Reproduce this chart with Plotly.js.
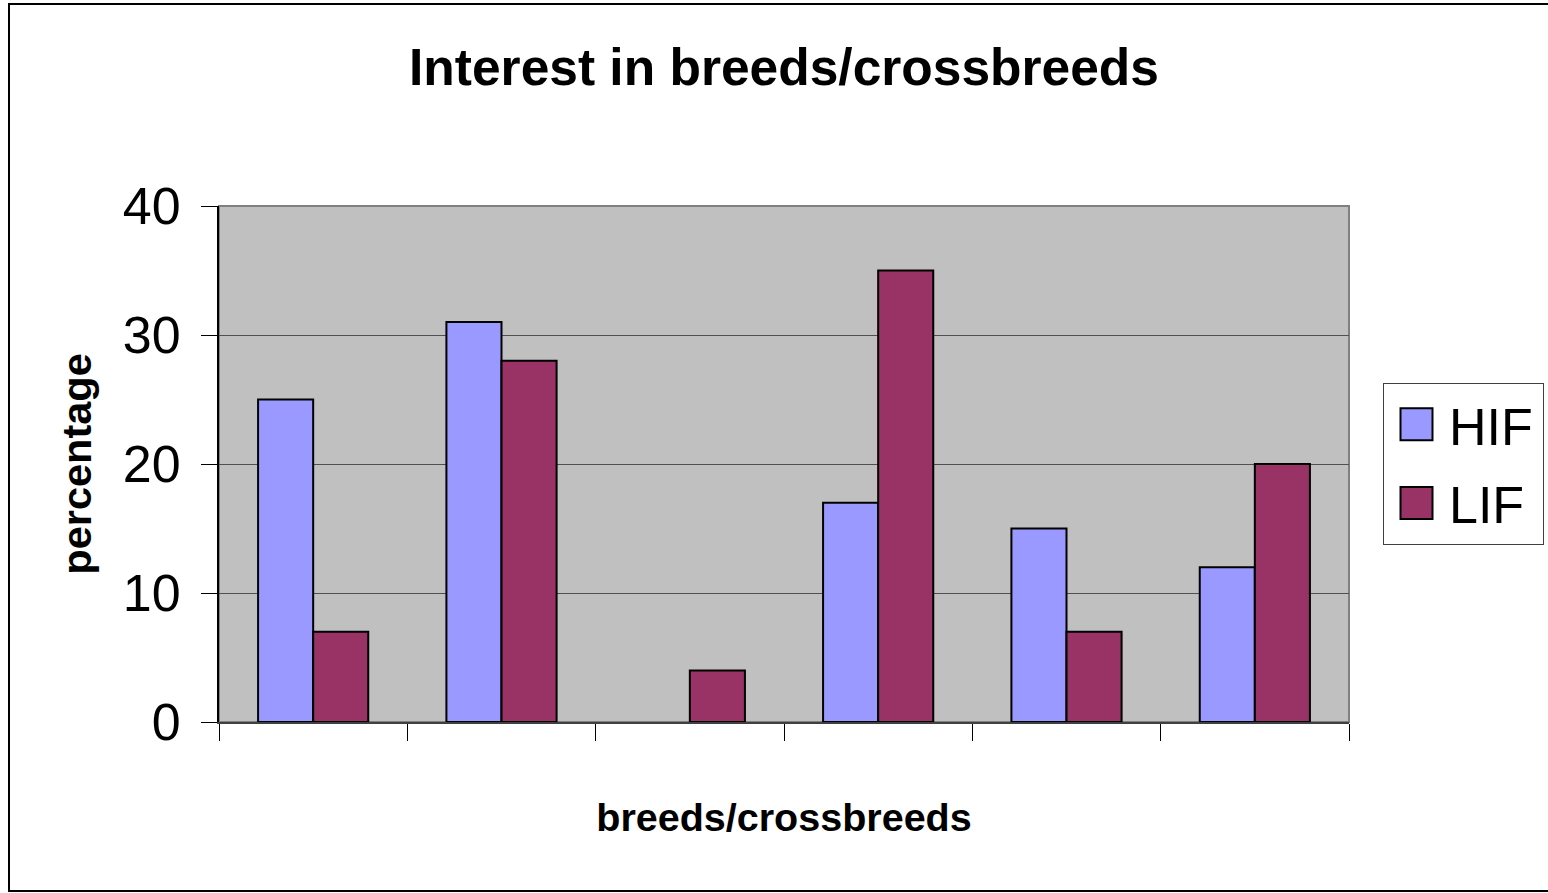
<!DOCTYPE html>
<html>
<head>
<meta charset="utf-8">
<script src="https://cdn.plot.ly/plotly-3.0.1.min.js"></script>
<style>
html,body{margin:0;padding:0;background:#fff;}
#chart{width:1548px;height:893px;}
</style>
</head>
<body>
<div id="chart"></div>
<script>
// Data
const categories = ['1', '2', '3', '4', '5', '6'];
const hifValues = [25, 31, null, 17, 15, 12];
const lifValues = [7, 28, 4, 35, 7, 20];
const seriesNames = ['HIF', 'LIF'];
const yTickValues = [0, 10, 20, 30, 40];

const FONT = 'Liberation Sans, Arial, sans-serif';

const traces = [
  {
    type: 'bar', name: seriesNames[0], x: categories, y: hifValues, legendgroup: 'a',
    marker: {color: '#9999FF', line: {color: '#000000', width: 2}}
  },
  {
    type: 'bar', name: seriesNames[1], x: categories, y: lifValues, legendgroup: 'b',
    marker: {color: '#993366', line: {color: '#000000', width: 2}}
  }
];

const L = 219, R = 199, T = 206, B = 171;
const pw = 1548 - L - R, ph = 893 - T - B;
function px(x){ return (x - L) / pw; }
function py(y){ return (893 - B - y) / ph; }

const layout = {
  width: 1548, height: 893,
  margin: {l: L, r: R, t: T, b: B, pad: 0, autoexpand: false},
  paper_bgcolor: '#FFFFFF',
  plot_bgcolor: '#C0C0C0',
  font: {family: FONT, color: '#000000'},
  barmode: 'group',
  bargap: 0.415,
  bargroupgap: 0,
  title: {
    text: 'Interest in breeds/crossbreeds',
    font: {family: FONT, size: 51.5, color: '#000000', weight: 'bold'},
    x: 0.5, xref: 'paper', xanchor: 'center',
    y: 1 - 67/893, yref: 'container', yanchor: 'middle'
  },
  xaxis: {
    type: 'category',
    categoryarray: categories,
    showticklabels: false,
    tickson: 'boundaries',
    ticks: 'outside', ticklen: 17, tickcolor: '#000000', tickwidth: 1,
    showgrid: false,
    showline: true, linecolor: '#404040', linewidth: 2,
    zeroline: false,
    title: {text: 'breeds/crossbreeds', font: {family: FONT, size: 39.5, weight: 'bold'}, standoff: 80},
    automargin: false,
    fixedrange: true
  },
  yaxis: {
    range: [0, 40],
    tickvals: yTickValues,
    ticktext: yTickValues.map(String),
    ticks: 'outside', ticklen: 16, tickcolor: '#000000', tickwidth: 1,
    tickfont: {family: FONT, size: 52, color: '#000000'},
    ticklabelstandoff: 10,
    showgrid: true, gridcolor: '#505050', gridwidth: 1,
    showline: true, linecolor: '#000000', linewidth: 2,
    zeroline: false,
    title: {text: 'percentage', font: {family: FONT, size: 41.5, weight: 'bold'}, standoff: 18},
    automargin: false,
    fixedrange: true
  },
  showlegend: true,
  legend: {
    x: px(1383), y: py(383), xanchor: 'left', yanchor: 'top',
    bgcolor: '#FFFFFF', bordercolor: '#404040', borderwidth: 1,
    font: {family: FONT, size: 52, color: '#000000'},
    traceorder: 'grouped',
    tracegroupgap: 8,
    itemwidth: 55
  },
  shapes: [
    {type: 'rect', xref: 'paper', yref: 'paper', x0: 0, x1: 1, y0: 0, y1: 1,
     line: {color: '#808080', width: 2}, fillcolor: 'rgba(0,0,0,0)', layer: 'below'},
    {type: 'rect', xref: 'paper', yref: 'paper', x0: px(9), x1: px(1560), y0: py(891), y1: py(4),
     line: {color: '#000000', width: 2}, fillcolor: 'rgba(0,0,0,0)', layer: 'above'}
  ]
};

Plotly.newPlot('chart', traces, layout, {displayModeBar: false, staticPlot: true}).then(function(gd){
  gd.querySelectorAll('.legend .legendpoints path').forEach(function(p){
    p.setAttribute('d', 'M16,16H-16V-16H16Z');
  });
  var bg = gd.querySelector('.legend rect.bg');
  if (bg) {
    var w = parseFloat(bg.getAttribute('width'));
    if (w < 160) bg.setAttribute('width', 160);
  }
});
</script>
</body>
</html>
